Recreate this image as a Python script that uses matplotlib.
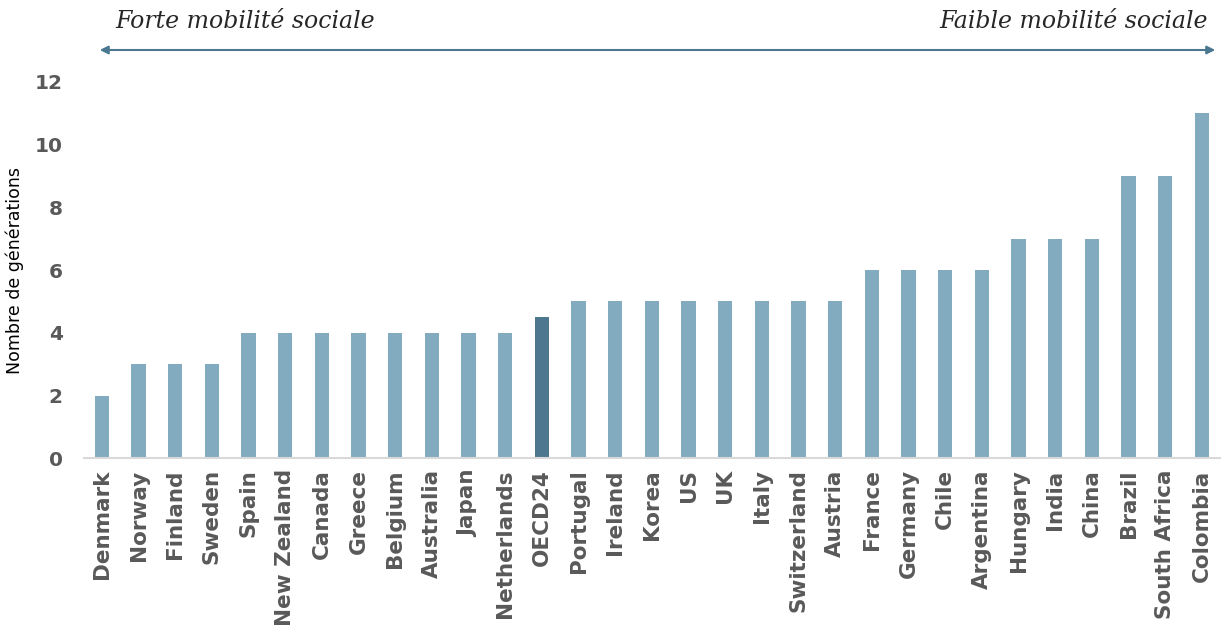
import matplotlib.pyplot as plt
from matplotlib.patches import FancyArrowPatch

countries = ["Denmark", "Norway", "Finland", "Sweden", "Spain", "New Zealand",
             "Canada", "Greece", "Belgium", "Australia", "Japan", "Netherlands",
             "OECD24", "Portugal", "Ireland", "Korea", "US", "UK", "Italy",
             "Switzerland", "Austria", "France", "Germany", "Chile", "Argentina",
             "Hungary", "India", "China", "Brazil", "South Africa", "Colombia"]
generations = [2, 3, 3, 3, 4, 4, 4, 4, 4, 4, 4, 4, 4.5, 5, 5, 5, 5, 5, 5,
               5, 5, 6, 6, 6, 6, 7, 7, 7, 9, 9, 11]
highlight = "OECD24"

light = "#83abc0"
dark = "#4d778f"
colors = [dark if c == highlight else light for c in countries]

fig = plt.figure(figsize=(12.3, 6.4), dpi=100)
ax = fig.add_axes([0.068, 0.284, 0.924, 0.588])

x = range(len(countries))
ax.bar(x, generations, width=0.39, color=colors)
ax.set_xlim(-0.5, len(countries) - 0.5)
ax.set_ylim(0, 12)
ax.set_yticks(range(0, 13, 2))
ax.set_xticks(list(x))
ax.set_xticklabels(countries, rotation=90, fontsize=15.5, fontweight="bold",
                   color="#595959", family="DejaVu Sans")
for lab in ax.get_yticklabels():
    lab.set_fontsize(14.5)
    lab.set_fontweight("bold")
    lab.set_color("#595959")
    lab.set_family("DejaVu Sans")
ax.tick_params(axis="x", length=0, pad=8)
ax.tick_params(axis="y", length=0, pad=15)
for s in ["top", "right", "left"]:
    ax.spines[s].set_visible(False)
ax.spines["bottom"].set_color("#d9d9d9")
ax.spines["bottom"].set_linewidth(1.5)
ax.set_ylabel("Nombre de générations", fontsize=12.5, family="DejaVu Sans",
              labelpad=8)

# header arrow and labels
arrow = FancyArrowPatch((97 / 1230, 1 - 50 / 640), (1218 / 1230, 1 - 50 / 640),
                        transform=fig.transFigure, arrowstyle="<|-|>",
                        mutation_scale=12, color="#4a7891", linewidth=1.5)
fig.patches.append(arrow)
fig.text(115 / 1230, 1 - 22 / 640, "Forte mobilité sociale", fontsize=17,
         style="italic", color="#262626", family="DejaVu Serif", va="center")
fig.text(1208 / 1230, 1 - 22 / 640, "Faible mobilité sociale", fontsize=17,
         style="italic", color="#262626", family="DejaVu Serif", va="center",
         ha="right")

fig.savefig("out.png", dpi=100)
